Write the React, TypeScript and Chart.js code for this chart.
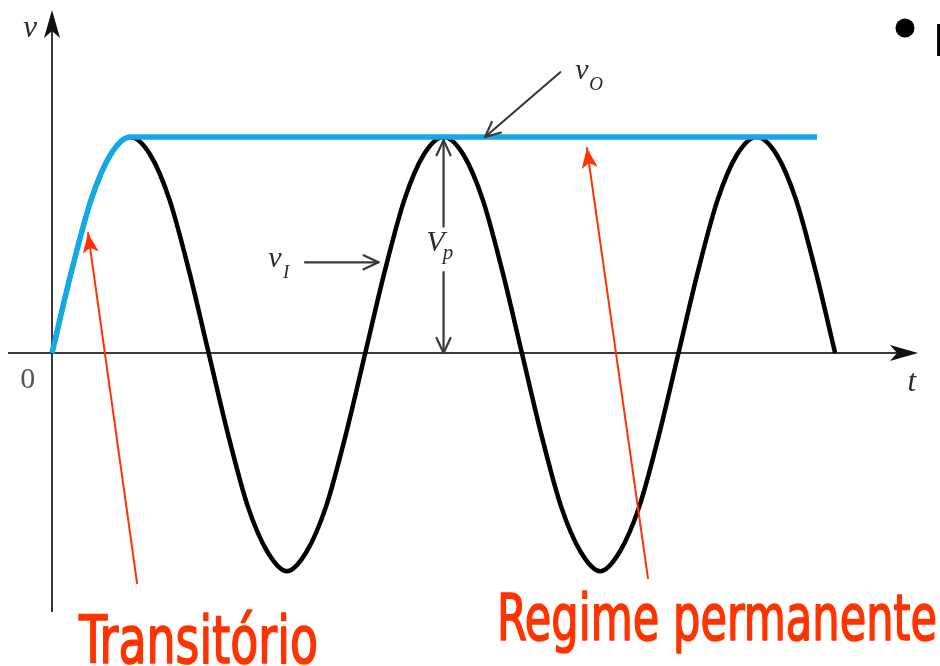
import React, { useEffect, useRef } from "react";
import { Chart, registerables } from "chart.js";

Chart.register(...registerables);

// time axis in quarter-periods (peak of vI at t = 1, 5, 9)
const timeI = [0, 0.25, 0.5, 0.75, 1, 1.25, 1.5, 1.75, 2, 2.25, 2.5, 2.75, 3, 3.25, 3.5, 3.75,
  4, 4.25, 4.5, 4.75, 5, 5.25, 5.5, 5.75, 6, 6.25, 6.5, 6.75, 7, 7.25, 7.5, 7.75,
  8, 8.25, 8.5, 8.75, 9, 9.25, 9.5, 9.75, 10];
const vI = [0, 0.38, 0.71, 0.92, 1, 0.92, 0.71, 0.38, 0, -0.38, -0.71, -0.92, -1.01, -0.92, -0.71, -0.38,
  0, 0.38, 0.71, 0.92, 1, 0.92, 0.71, 0.38, 0, -0.38, -0.71, -0.92, -1.01, -0.92, -0.71, -0.38,
  0, 0.38, 0.71, 0.92, 1, 0.92, 0.71, 0.38, 0];
const timeO = [0, 0.25, 0.5, 0.75, 1, 9.77];
const vO = [0, 0.38, 0.71, 0.92, 1, 1];

const xRange = [-0.562, 11.02];
const yRange = [-1.199, 1.588];

function arrowHead(ctx: CanvasRenderingContext2D, x1: number, y1: number, x2: number, y2: number, len: number, half: number, filled: boolean) {
  const a = Math.atan2(y2 - y1, x2 - x1);
  const bx = x2 - len * Math.cos(a);
  const by = y2 - len * Math.sin(a);
  const px = -Math.sin(a) * half;
  const py = Math.cos(a) * half;
  ctx.beginPath();
  if (filled) {
    ctx.moveTo(x2, y2);
    ctx.lineTo(bx + px, by + py);
    ctx.lineTo(x2 - len * 0.75 * Math.cos(a), y2 - len * 0.75 * Math.sin(a));
    ctx.lineTo(bx - px, by - py);
    ctx.closePath();
    ctx.fill();
  } else {
    ctx.moveTo(bx + px, by + py);
    ctx.lineTo(x2, y2);
    ctx.lineTo(bx - px, by - py);
    ctx.stroke();
  }
}

function arrow(ctx: CanvasRenderingContext2D, x1: number, y1: number, x2: number, y2: number, color: string, width: number, len: number, half: number, filled: boolean) {
  ctx.save();
  ctx.strokeStyle = color;
  ctx.fillStyle = color;
  ctx.lineWidth = width;
  ctx.lineCap = "round";
  ctx.lineJoin = "round";
  ctx.beginPath();
  ctx.moveTo(x1, y1);
  ctx.lineTo(x2, y2);
  ctx.stroke();
  arrowHead(ctx, x1, y1, x2, y2, len, half, filled);
  ctx.restore();
}

function fitText(ctx: CanvasRenderingContext2D, text: string, left: number, baseline: number, width: number, font: string, color: string) {
  ctx.save();
  ctx.font = font;
  ctx.fillStyle = color;
  ctx.strokeStyle = color;
  ctx.lineWidth = 1.6;
  ctx.lineJoin = "round";
  ctx.textAlign = "left";
  ctx.textBaseline = "alphabetic";
  const w = ctx.measureText(text).width;
  ctx.translate(left, baseline);
  ctx.scale(width / w, 1);
  ctx.fillText(text, 0, 0);
  ctx.strokeText(text, 0, 0);
  ctx.restore();
}

const axesPlugin = {
  id: "axesPlugin",
  beforeDatasetsDraw(chart: any) {
    const { ctx, scales, chartArea } = chart;
    const xs = scales.x, ys = scales.y;
    const x0 = xs.getPixelForValue(0);
    const y0 = ys.getPixelForValue(0);
    ctx.save();
    ctx.strokeStyle = "#3a3a3a";
    ctx.fillStyle = "#111";
    ctx.lineWidth = 2;
    ctx.beginPath();
    ctx.moveTo(chartArea.left, y0);
    ctx.lineTo(chartArea.right - 6, y0);
    ctx.stroke();
    arrowHead(ctx, chartArea.left, y0, chartArea.right + 3, y0, 28, 8, true);
    ctx.beginPath();
    ctx.moveTo(x0, chartArea.bottom);
    ctx.lineTo(x0, chartArea.top + 6);
    ctx.stroke();
    arrowHead(ctx, x0, chartArea.bottom, x0, chartArea.top, 28, 8, true);
    ctx.restore();
  },
  afterDatasetsDraw(chart: any) {
    const { ctx, scales } = chart;
    const X = (v: number) => scales.x.getPixelForValue(v);
    const Y = (v: number) => scales.y.getPixelForValue(v);
    const gray = "#2a2a2a";
    const red = "#ff3300";
    const serif = "'Liberation Serif', 'DejaVu Serif', serif";

    ctx.save();
    ctx.fillStyle = gray;
    ctx.textBaseline = "middle";
    ctx.textAlign = "center";
    ctx.font = `italic 31px ${serif}`;
    ctx.fillText("v", X(-0.28), Y(1.5));
    ctx.fillText("t", X(10.98), Y(-0.14));
    ctx.fillStyle = "#555";
    ctx.font = `30px ${serif}`;
    ctx.fillText("0", X(-0.31), Y(-0.125));

    ctx.fillStyle = gray;
    ctx.textAlign = "left";
    // v_O
    ctx.font = `italic 30px ${serif}`;
    ctx.fillText("v", X(6.68), Y(1.305));
    ctx.font = `italic 19px ${serif}`;
    ctx.fillText("O", X(6.86), Y(1.24));
    // v_I
    ctx.font = `italic 30px ${serif}`;
    ctx.fillText("v", X(2.76), Y(0.435));
    ctx.font = `italic 19px ${serif}`;
    ctx.fillText("I", X(2.95), Y(0.37));
    // V_p
    ctx.font = `italic 30px ${serif}`;
    ctx.fillText("V", X(4.78), Y(0.51));
    ctx.font = `italic 21px ${serif}`;
    ctx.fillText("p", X(4.99), Y(0.46));
    ctx.restore();

    arrow(ctx, X(6.49), Y(1.3), X(5.53), Y(1.0), "#3a3a3a", 2.2, 15, 7, false);
    arrow(ctx, X(3.23), Y(0.42), X(4.17), Y(0.42), "#3a3a3a", 2.2, 15, 7, false);
    arrow(ctx, X(5.0), Y(0.585), X(5.0), Y(0.985), "#3a3a3a", 2.2, 15, 7, false);
    arrow(ctx, X(5.0), Y(0.375), X(5.0), Y(0.0), "#3a3a3a", 2.2, 15, 7, false);

    arrow(ctx, X(1.086), Y(-1.065), X(0.46), Y(0.556), red, 2, 20, 8, true);
    arrow(ctx, X(7.61), Y(-1.042), X(6.83), Y(0.949), red, 2, 20, 8, true);

    const capFont = (s: number) => `${s}px 'DejaVu Sans Condensed', 'DejaVu Sans', 'Liberation Sans', sans-serif`;
    fitText(ctx, "Transitório", 79, 663, 239, capFont(66), red);
    fitText(ctx, "Regime permanente", 497, 640, 440, capFont(64), red);

    ctx.save();
    ctx.fillStyle = "#000";
    ctx.beginPath();
    ctx.arc(905, 28, 9.5, 0, Math.PI * 2);
    ctx.fill();
    ctx.font = "bold 46px 'Liberation Sans', sans-serif";
    ctx.textBaseline = "alphabetic";
    ctx.textAlign = "left";
    ctx.fillText("P", 934, 56);
    ctx.restore();
  },
};

export default function App() {
  const ref = useRef<HTMLCanvasElement | null>(null);
  useEffect(() => {
    if (!ref.current) return;
    const chart = new Chart(ref.current, {
      type: "line",
      data: {
        datasets: [
          {
            label: "vO",
            data: timeO.map((t, i) => ({ x: t, y: vO[i] })),
            borderColor: "#13a8e6",
            borderWidth: 5.5,
            pointRadius: 0,
            cubicInterpolationMode: "monotone",
            fill: false,
            order: 0,
          },
          {
            label: "vI",
            data: timeI.map((t, i) => ({ x: t, y: vI[i] })),
            borderColor: "#000",
            borderWidth: 4.5,
            pointRadius: 0,
            cubicInterpolationMode: "monotone",
            fill: false,
            order: 1,
          },
        ],
      },
      options: {
        animation: false,
        responsive: false,
        maintainAspectRatio: false,
        layout: { padding: { left: 8, right: 25, top: 10, bottom: 54 } },
        plugins: { legend: { display: false }, tooltip: { enabled: false }, title: { display: false } },
        scales: {
          x: { type: "linear", min: xRange[0], max: xRange[1], display: false },
          y: { type: "linear", min: yRange[0], max: yRange[1], display: false },
        },
      },
      plugins: [axesPlugin],
    });
    return () => chart.destroy();
  }, []);
  return (
    <div style={{ position: "absolute", left: 0, top: 0, width: 940, height: 666, background: "#fff" }}>
      <canvas ref={ref} width={940} height={666} style={{ width: 940, height: 666, display: "block" }} />
    </div>
  );
}
